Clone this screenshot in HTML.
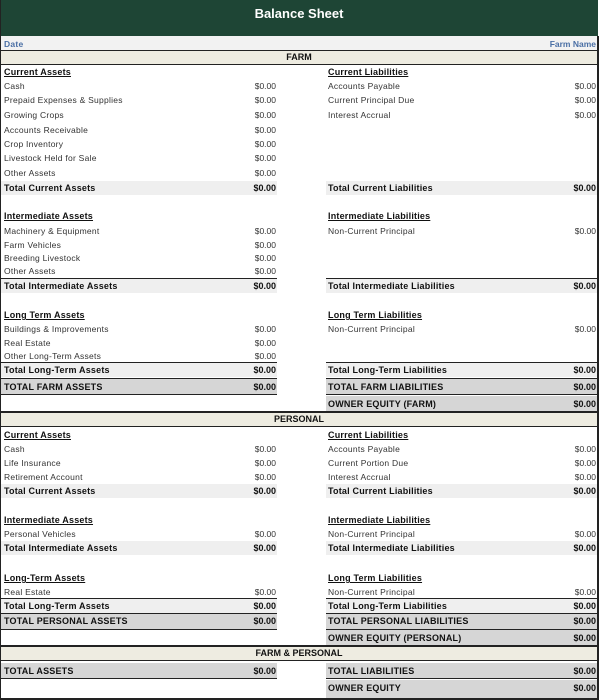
<!DOCTYPE html><html><head><style>
body{margin:0;width:600px;height:700px;background:#fff;position:relative;overflow:hidden;font-family:"Liberation Sans",sans-serif;}
div{position:absolute;white-space:nowrap;}
.t{height:14px;line-height:14px;font-size:8.5px;color:#333;letter-spacing:0.25px}
.b{font-weight:bold;font-size:9px;color:#111;letter-spacing:0.2px}
.h{font-weight:bold;font-size:9px;color:#111;text-decoration:underline;letter-spacing:0.2px}
.lv{left:200px;width:76px;text-align:right;letter-spacing:0}
.rv{left:520px;width:76px;text-align:right;letter-spacing:0}
.gl{left:1px;width:276px;height:14px;background:#efefef}
.gr{left:326px;width:271px;height:14px;background:#efefef}
.dl{left:1px;width:276px;height:15px;background:#d6d6d6}
.dr{left:326px;width:271px;height:15px;background:#d6d6d6}
.ln{height:1px;background:#222}
.band{left:1px;width:596px;height:13px;background:#eeece1;font-weight:bold;font-size:9px;text-align:center;line-height:13px;color:#111}
</style></head><body>
<div style="left:0;top:0;width:598px;height:36px;background:#1e4535;color:#fff;font-weight:bold;font-size:13px;text-align:center;line-height:28px">Balance Sheet</div>
<div style="left:0;top:36px;width:598px;height:14px;background:#f2f2f2"></div>
<div class="t" style="left:4px;top:37px;color:#4a6fa5;font-size:8.5px;font-weight:bold">Date</div>
<div class="t" style="left:500px;width:96px;text-align:right;top:37px;color:#4a6fa5;font-size:8.5px;font-weight:bold;letter-spacing:0">Farm Name</div>
<div class="ln" style="left:0;top:50px;width:598px;height:2px"></div>
<div class="band" style="top:51px">FARM</div>
<div class="ln" style="left:0;top:64px;width:598px"></div>
<div style="left:0;top:0;width:1px;height:700px;background:#222"></div>
<div style="left:597px;top:36px;width:2px;height:664px;background:#222"></div>
<div style="left:0;top:698px;width:599px;height:2px;background:#222"></div>

<div class="t h" style="left:4px;top:65px">Current Assets</div>
<div class="t" style="left:4px;top:79px">Cash</div><div class="t lv" style="top:79px">$0.00</div>
<div class="t" style="left:4px;top:93px">Prepaid Expenses &amp; Supplies</div><div class="t lv" style="top:93px">$0.00</div>
<div class="t" style="left:4px;top:108px">Growing Crops</div><div class="t lv" style="top:108px">$0.00</div>
<div class="t" style="left:4px;top:123px">Accounts Receivable</div><div class="t lv" style="top:123px">$0.00</div>
<div class="t" style="left:4px;top:137px">Crop Inventory</div><div class="t lv" style="top:137px">$0.00</div>
<div class="t" style="left:4px;top:151px">Livestock Held for Sale</div><div class="t lv" style="top:151px">$0.00</div>
<div class="t" style="left:4px;top:166px">Other Assets</div><div class="t lv" style="top:166px">$0.00</div>
<div class="gl" style="top:181px"></div><div class="t b" style="left:4px;top:181px">Total Current Assets</div><div class="t b lv" style="top:181px">$0.00</div>
<div class="t h" style="left:4px;top:209px">Intermediate Assets</div>
<div class="t" style="left:4px;top:224px">Machinery &amp; Equipment</div><div class="t lv" style="top:224px">$0.00</div>
<div class="t" style="left:4px;top:238px">Farm Vehicles</div><div class="t lv" style="top:238px">$0.00</div>
<div class="t" style="left:4px;top:251px">Breeding Livestock</div><div class="t lv" style="top:251px">$0.00</div>
<div class="t" style="left:4px;top:264px">Other Assets</div><div class="t lv" style="top:264px">$0.00</div>
<div class="ln" style="left:1px;width:276px;top:278px"></div>
<div class="gl" style="top:279px"></div><div class="t b" style="left:4px;top:279px">Total Intermediate Assets</div><div class="t b lv" style="top:279px">$0.00</div>
<div class="t h" style="left:4px;top:308px">Long Term Assets</div>
<div class="t" style="left:4px;top:322px">Buildings &amp; Improvements</div><div class="t lv" style="top:322px">$0.00</div>
<div class="t" style="left:4px;top:336px">Real Estate</div><div class="t lv" style="top:336px">$0.00</div>
<div class="t" style="left:4px;top:349px">Other Long-Term Assets</div><div class="t lv" style="top:349px">$0.00</div>
<div class="ln" style="left:1px;width:276px;top:362px"></div>
<div class="gl" style="top:363px"></div><div class="t b" style="left:4px;top:363px">Total Long-Term Assets</div><div class="t b lv" style="top:363px">$0.00</div>
<div class="ln" style="left:1px;width:276px;top:378px"></div>
<div class="dl" style="top:379px"></div><div class="t b" style="left:4px;top:380px">TOTAL FARM ASSETS</div><div class="t b lv" style="top:380px">$0.00</div>
<div class="ln" style="left:1px;width:276px;top:394px"></div>

<div class="t h" style="left:328px;top:65px">Current Liabilities </div>
<div class="t" style="left:328px;top:79px">Accounts Payable</div><div class="t rv" style="top:79px">$0.00</div>
<div class="t" style="left:328px;top:93px">Current Principal Due</div><div class="t rv" style="top:93px">$0.00</div>
<div class="t" style="left:328px;top:108px">Interest Accrual</div><div class="t rv" style="top:108px">$0.00</div>
<div class="gr" style="top:181px"></div><div class="t b" style="left:328px;top:181px">Total Current Liabilities</div><div class="t b rv" style="top:181px">$0.00</div>
<div class="t h" style="left:328px;top:209px">Intermediate Liabilities </div>
<div class="t" style="left:328px;top:224px">Non-Current Principal</div><div class="t rv" style="top:224px">$0.00</div>
<div class="ln" style="left:326px;width:271px;top:278px"></div>
<div class="gr" style="top:279px"></div><div class="t b" style="left:328px;top:279px">Total Intermediate Liabilities</div><div class="t b rv" style="top:279px">$0.00</div>
<div class="t h" style="left:328px;top:308px">Long Term Liabilities </div>
<div class="t" style="left:328px;top:322px">Non-Current Principal</div><div class="t rv" style="top:322px">$0.00</div>
<div class="ln" style="left:326px;width:271px;top:362px"></div>
<div class="gr" style="top:363px"></div><div class="t b" style="left:328px;top:363px">Total Long-Term Liabilities</div><div class="t b rv" style="top:363px">$0.00</div>
<div class="ln" style="left:326px;width:271px;top:378px"></div>
<div class="dr" style="top:379px"></div><div class="t b" style="left:328px;top:380px">TOTAL FARM LIABILITIES</div><div class="t b rv" style="top:380px">$0.00</div>
<div class="ln" style="left:326px;width:271px;top:394px"></div>
<div class="dr" style="top:396px"></div><div class="t b" style="left:328px;top:397px">OWNER EQUITY (FARM)</div><div class="t b rv" style="top:397px">$0.00</div>

<div class="ln" style="left:0;top:411px;width:598px;height:2px"></div>
<div class="band" style="top:413px">PERSONAL</div>
<div class="ln" style="left:0;top:426px;width:598px"></div>

<div class="t h" style="left:4px;top:428px">Current Assets </div>
<div class="t" style="left:4px;top:442px">Cash</div><div class="t lv" style="top:442px">$0.00</div>
<div class="t" style="left:4px;top:456px">Life Insurance</div><div class="t lv" style="top:456px">$0.00</div>
<div class="t" style="left:4px;top:470px">Retirement Account</div><div class="t lv" style="top:470px">$0.00</div>
<div class="gl" style="top:484px"></div><div class="t b" style="left:4px;top:484px">Total Current Assets</div><div class="t b lv" style="top:484px">$0.00</div>
<div class="t h" style="left:4px;top:513px">Intermediate Assets</div>
<div class="t" style="left:4px;top:527px">Personal Vehicles</div><div class="t lv" style="top:527px">$0.00</div>
<div class="gl" style="top:541px"></div><div class="t b" style="left:4px;top:541px">Total Intermediate Assets</div><div class="t b lv" style="top:541px">$0.00</div>
<div class="t h" style="left:4px;top:571px">Long-Term Assets</div>
<div class="t" style="left:4px;top:585px">Real Estate</div><div class="t lv" style="top:585px">$0.00</div>
<div class="ln" style="left:1px;width:276px;top:598px"></div>
<div class="gl" style="top:599px"></div><div class="t b" style="left:4px;top:599px">Total Long-Term Assets</div><div class="t b lv" style="top:599px">$0.00</div>
<div class="ln" style="left:1px;width:276px;top:613px"></div>
<div class="dl" style="top:614px"></div><div class="t b" style="left:4px;top:614px">TOTAL PERSONAL ASSETS</div><div class="t b lv" style="top:614px">$0.00</div>
<div class="ln" style="left:1px;width:276px;top:629px"></div>

<div class="t h" style="left:328px;top:428px">Current Liabilities </div>
<div class="t" style="left:328px;top:442px">Accounts Payable</div><div class="t rv" style="top:442px">$0.00</div>
<div class="t" style="left:328px;top:456px">Current Portion Due</div><div class="t rv" style="top:456px">$0.00</div>
<div class="t" style="left:328px;top:470px">Interest Accrual</div><div class="t rv" style="top:470px">$0.00</div>
<div class="gr" style="top:484px"></div><div class="t b" style="left:328px;top:484px">Total Current Liabilities</div><div class="t b rv" style="top:484px">$0.00</div>
<div class="t h" style="left:328px;top:513px">Intermediate Liabilities </div>
<div class="t" style="left:328px;top:527px">Non-Current Principal</div><div class="t rv" style="top:527px">$0.00</div>
<div class="gr" style="top:541px"></div><div class="t b" style="left:328px;top:541px">Total Intermediate Liabilities</div><div class="t b rv" style="top:541px">$0.00</div>
<div class="t h" style="left:328px;top:571px">Long Term Liabilities </div>
<div class="t" style="left:328px;top:585px">Non-Current Principal</div><div class="t rv" style="top:585px">$0.00</div>
<div class="ln" style="left:326px;width:271px;top:598px"></div>
<div class="gr" style="top:599px"></div><div class="t b" style="left:328px;top:599px">Total Long-Term Liabilities</div><div class="t b rv" style="top:599px">$0.00</div>
<div class="ln" style="left:326px;width:271px;top:613px"></div>
<div class="dr" style="top:614px"></div><div class="t b" style="left:328px;top:614px">TOTAL PERSONAL LIABILITIES</div><div class="t b rv" style="top:614px">$0.00</div>
<div class="ln" style="left:326px;width:271px;top:629px"></div>
<div class="dr" style="top:630px"></div><div class="t b" style="left:328px;top:631px">OWNER EQUITY (PERSONAL)</div><div class="t b rv" style="top:631px">$0.00</div>

<div class="ln" style="left:0;top:645px;width:598px;height:2px"></div>
<div class="band" style="top:647px">FARM &amp; PERSONAL</div>
<div class="ln" style="left:0;top:660px;width:598px"></div>
<div class="dl" style="top:663px"></div><div class="t b" style="left:4px;top:664px">TOTAL ASSETS</div><div class="t b lv" style="top:664px">$0.00</div>
<div class="ln" style="left:1px;width:276px;top:678px"></div>
<div class="dr" style="top:663px"></div><div class="t b" style="left:328px;top:664px">TOTAL LIABILITIES</div><div class="t b rv" style="top:664px">$0.00</div>
<div class="ln" style="left:326px;width:271px;top:678px"></div>
<div class="dr" style="top:680px;height:18px"></div><div class="t b" style="left:328px;top:681px">OWNER EQUITY</div><div class="t b rv" style="top:681px">$0.00</div>
</body></html>
